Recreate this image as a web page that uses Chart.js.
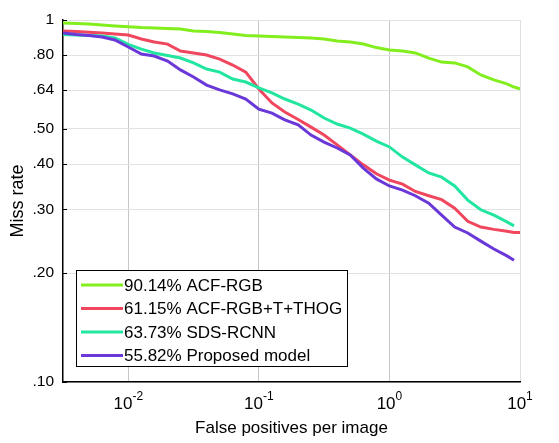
<!DOCTYPE html>
<html>
<head>
<meta charset="utf-8">
<script src="https://cdn.jsdelivr.net/npm/chart.js@4.4.1/dist/chart.umd.min.js"></script>
<style>
    html, body { margin: 0; padding: 0; background: #fff; }
</style>
</head>
<body>
<canvas id="missRateChart" width="559" height="443"></canvas>
<script>
// false positives per image (x) shared by all curves
const fppi = [0.00316, 0.004, 0.005, 0.0063, 0.0079, 0.01, 0.0126, 0.0158, 0.02, 0.0251,
    0.0316, 0.0398, 0.0501, 0.0631, 0.0794, 0.1, 0.126, 0.158, 0.2, 0.251,
    0.316, 0.398, 0.501, 0.631, 0.794, 1, 1.26, 1.58, 2, 2.51,
    3.16, 3.98, 5.01, 6.31, 7.94, 9, 10];

// miss rate per curve
const acfRgb = [0.981, 0.978, 0.975, 0.969, 0.963, 0.958, 0.953, 0.950, 0.947, 0.944,
    0.932, 0.930, 0.924, 0.915, 0.906, 0.903, 0.900, 0.897, 0.895, 0.892,
    0.886, 0.875, 0.869, 0.858, 0.839, 0.826, 0.821, 0.811, 0.785, 0.765,
    0.761, 0.742, 0.705, 0.683, 0.666, 0.653, 0.645];
const acfThog = [0.932, 0.930, 0.925, 0.921, 0.915, 0.909, 0.886, 0.869, 0.858, 0.821,
    0.811, 0.800, 0.780, 0.751, 0.718, 0.645, 0.590, 0.557, 0.531, 0.506,
    0.481, 0.452, 0.424, 0.398, 0.376, 0.361, 0.352, 0.336, 0.327, 0.319,
    0.302, 0.278, 0.268, 0.264, 0.261, 0.259, 0.259];
const sdsRcnn = [0.912, 0.909, 0.906, 0.903, 0.892, 0.856, 0.831, 0.811, 0.798, 0.785,
    0.761, 0.732, 0.718, 0.687, 0.674, 0.649, 0.629, 0.605, 0.586, 0.564,
    0.536, 0.516, 0.503, 0.484, 0.463, 0.446, 0.418, 0.398, 0.378, 0.368,
    0.348, 0.318, 0.299, 0.289, 0.277, 0.270, null];
const proposed = [0.921, 0.912, 0.906, 0.897, 0.881, 0.842, 0.805, 0.795, 0.770, 0.728,
    0.696, 0.661, 0.641, 0.625, 0.605, 0.567, 0.553, 0.530, 0.513, 0.481,
    0.460, 0.443, 0.424, 0.390, 0.364, 0.348, 0.339, 0.327, 0.312, 0.289,
    0.268, 0.258, 0.245, 0.233, 0.223, 0.217, null];

const seriesLabels = ["90.14% ACF-RGB", "61.15% ACF-RGB+T+THOG", "63.73% SDS-RCNN", "55.82% Proposed model"];
const seriesColors = ["#82ee1e", "#f0465e", "#22e6a0", "#6a38d8"];

const yTicks = [1, 0.8, 0.64, 0.5, 0.4, 0.3, 0.2, 0.1];
const yTickLabels = ["1", ".80", ".64", ".50", ".40", ".30", ".20", ".10"];
const xTicks = [0.01, 0.1, 1, 10];
const xTickExponents = ["-2", "-1", "0", "1"];

const FONT = '"Liberation Sans", Arial, sans-serif';
Chart.defaults.font.family = FONT;
Chart.defaults.color = "#000";

const toPoints = (values) => fppi.map((x, i) => ({ x, y: values[i] }));

// x tick labels as 10 with a raised exponent, left-axis tick marks, boxed legend
const paperDecor = {
    id: "paperDecor",
    afterDraw(chart) {
        const { ctx, chartArea, scales } = chart;
        ctx.save();
        ctx.fillStyle = "#000";
        ctx.textBaseline = "alphabetic";
        ctx.textAlign = "left";
        xTicks.forEach((v, i) => {
            const px = scales.x.getPixelForValue(v);
            ctx.font = "17px " + FONT;
            const baseW = ctx.measureText("10").width;
            ctx.font = "12px " + FONT;
            const expW = ctx.measureText(xTickExponents[i]).width;
            const left = px - (baseW + expW) / 2;
            ctx.font = "17px " + FONT;
            ctx.fillText("10", left, 409);
            ctx.font = "12px " + FONT;
            ctx.fillText(xTickExponents[i], left + baseW, 400);
        });

        ctx.strokeStyle = "#000";
        ctx.lineWidth = 1;
        yTicks.forEach((v) => {
            const py = Math.round(scales.y.getPixelForValue(v)) + 0.5;
            ctx.beginPath();
            ctx.moveTo(chartArea.left, py);
            ctx.lineTo(chartArea.left + 4, py);
            ctx.stroke();
        });

        // legend box
        const box = { x: 76.5, y: 270.5, w: 271, h: 96 };
        ctx.fillStyle = "#fff";
        ctx.fillRect(box.x, box.y, box.w, box.h);
        ctx.strokeRect(box.x, box.y, box.w, box.h);
        ctx.font = "17px " + FONT;
        ctx.textBaseline = "middle";
        seriesLabels.forEach((label, i) => {
            const rowY = 285 + i * 23.5;
            ctx.strokeStyle = seriesColors[i];
            ctx.lineWidth = 3;
            ctx.beginPath();
            ctx.moveTo(81, rowY);
            ctx.lineTo(123, rowY);
            ctx.stroke();
            ctx.fillStyle = "#000";
            ctx.fillText(label, 124, rowY + 1);
        });
        ctx.restore();
    }
};

new Chart(document.getElementById("missRateChart"), {
    type: "line",
    data: {
        datasets: [acfRgb, acfThog, sdsRcnn, proposed].map((values, i) => ({
            label: seriesLabels[i],
            data: toPoints(values),
            borderColor: seriesColors[i],
            backgroundColor: seriesColors[i],
            borderWidth: 3,
            pointRadius: 0,
            tension: 0,
            fill: false,
            spanGaps: false,
            order: 4 - i
        }))
    },
    options: {
        responsive: false,
        animation: false,
        devicePixelRatio: 1,
        layout: { padding: { left: 0, right: 39, top: 20, bottom: 0 } },
        plugins: {
            legend: { display: false },
            tooltip: { enabled: false }
        },
        scales: {
            x: {
                type: "logarithmic",
                min: 0.0031623,
                max: 10,
                afterBuildTicks: (scale) => { scale.ticks = xTicks.map((value) => ({ value })); },
                afterFit: (scale) => { scale.height = 61; },
                ticks: { display: false },
                grid: {
                    drawTicks: false,
                    color: (ctx) => (ctx.tick && ctx.tick.value === 10 ? "#e0e0e0" : "#c6c6c6")
                },
                border: { color: "#000", width: 1.5 },
                title: {
                    display: true,
                    text: "False positives per image",
                    font: { size: 17 },
                    padding: { top: 0, bottom: 4 }
                }
            },
            y: {
                type: "logarithmic",
                min: 0.1,
                max: 1,
                afterBuildTicks: (scale) => { scale.ticks = yTicks.map((value) => ({ value })); },
                afterFit: (scale) => { scale.width = 63; },
                ticks: {
                    autoSkip: false,
                    padding: 9,
                    font: { size: 15.5 },
                    callback: (value) => yTickLabels[yTicks.indexOf(value)]
                },
                grid: { drawTicks: false, color: "#e2e2e2" },
                border: { color: "#000", width: 1.5 },
                title: {
                    display: true,
                    text: "Miss rate",
                    font: { size: 18 },
                    padding: { top: 7, bottom: 0 }
                }
            }
        }
    },
    plugins: [paperDecor]
});
</script>
</body>
</html>
